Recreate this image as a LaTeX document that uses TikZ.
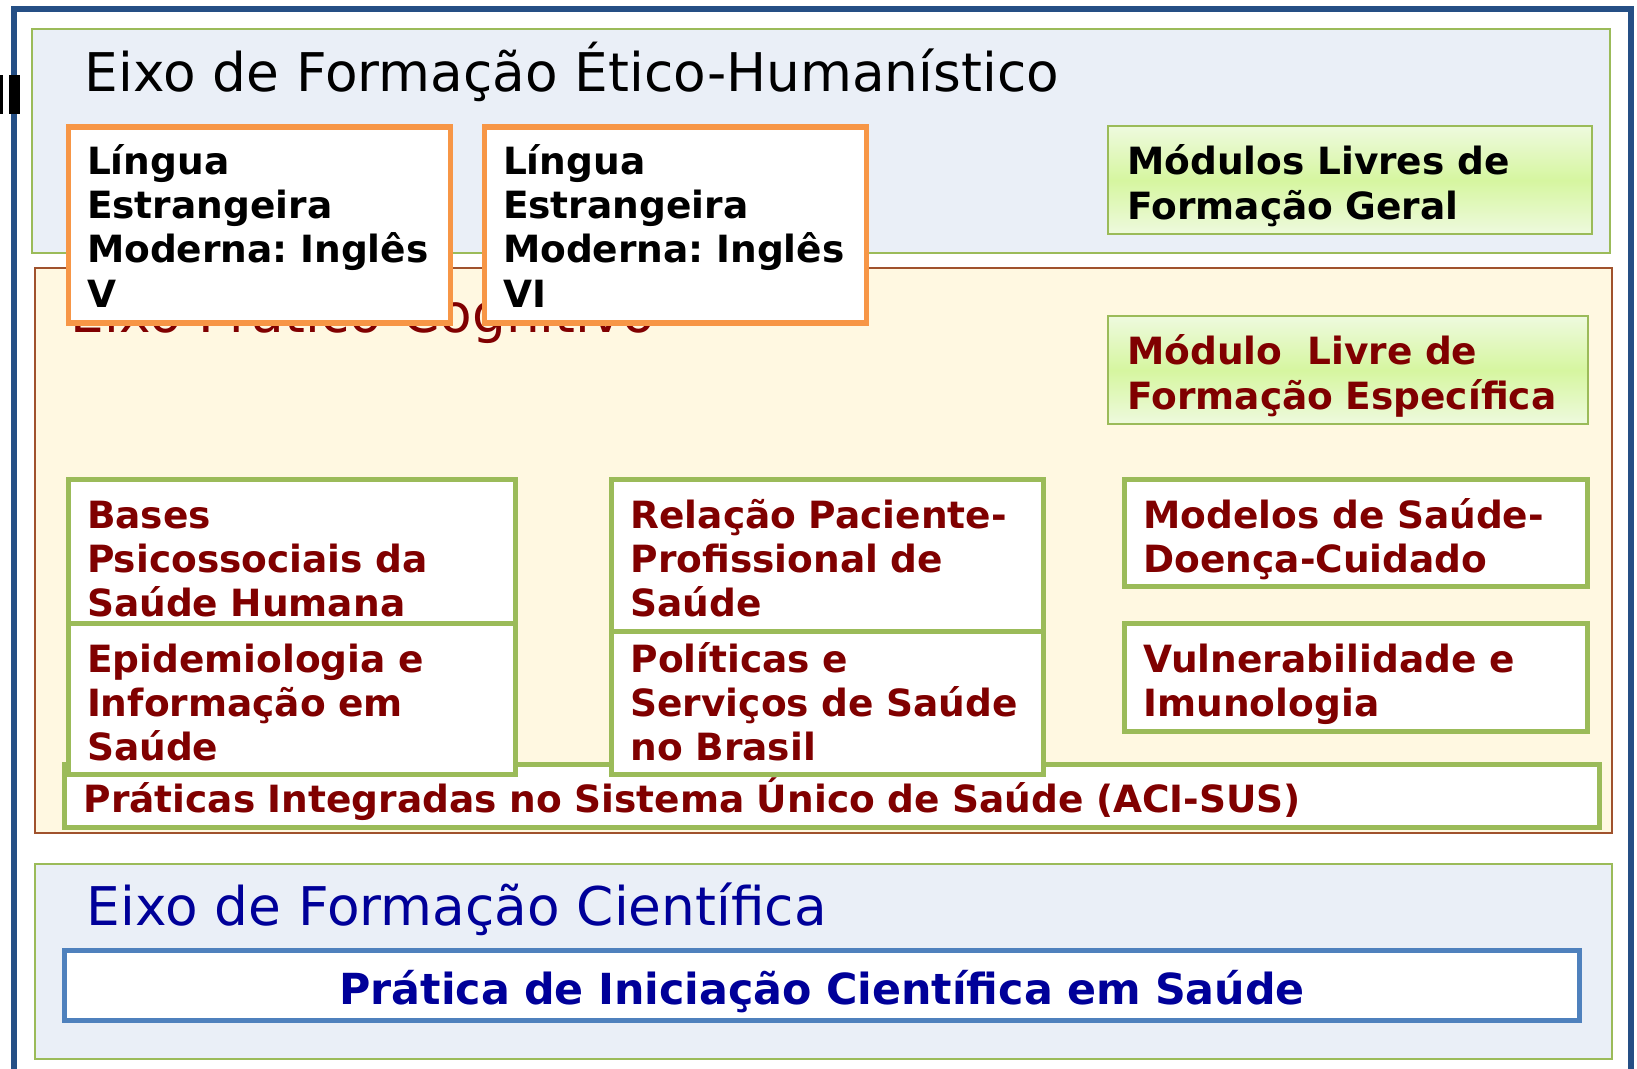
\documentclass[tikz,border=0pt]{standalone}
\usepackage{fontspec}
\setmainfont{DejaVu Sans}
\frenchspacing

\definecolor{moldura}{RGB}{37,79,133}
\definecolor{fundoazul}{RGB}{234,239,247}
\definecolor{fundobege}{RGB}{255,248,225}
\definecolor{verdeborda}{RGB}{155,187,89}
\definecolor{marrom}{RGB}{160,82,45}
\definecolor{laranja}{RGB}{247,150,70}
\definecolor{vinho}{RGB}{128,0,0}
\definecolor{azulescuro}{RGB}{0,0,153}
\definecolor{azulborda}{RGB}{79,129,189}
\definecolor{verdeclaro}{RGB}{238,250,222}
\definecolor{verdemeio}{RGB}{214,246,160}

\tikzset{
  eixo/.style={anchor=base west, inner sep=0pt, font=\fontsize{15.17}{18}\selectfont},
  painel/.style={line width=0.55pt},
  caixa/.style={draw, fill=white, line width=1.45pt, anchor=north west, inner xsep=0.19cm, inner ysep=0pt,
    text height=0.485cm, align=left, font=\bfseries\fontsize{10.67}{12.65}\selectfont},
  lingua/.style={caixa, draw=laranja, text=black, text width=3.445cm, text height=0.47cm, text depth=1.49cm},
  disciplina/.style={caixa, draw=verdeborda, text=vinho},
  livre/.style={caixa, draw=verdeborda, line width=0.7pt, top color=verdeclaro, bottom color=verdeclaro, middle color=verdemeio},
}

\begin{document}
\begin{tikzpicture}
\useasboundingbox (0,0) rectangle (16.37,-10.69);

% moldura externa
\draw[line width=1.6pt, draw=moldura] (0.14,-10.9) -- (0.14,-0.09) -- (16.31,-0.09) -- (16.31,-10.9);
\fill (0,-0.75) rectangle (0.03,-1.14);
\fill (0.09,-0.75) rectangle (0.20,-1.14);

% paineis dos eixos
\draw[painel, draw=verdeborda, fill=fundoazul] (0.32,-0.29) rectangle (16.10,-2.53);
\draw[painel, draw=marrom, fill=fundobege] (0.35,-2.68) rectangle (16.12,-8.33);
\draw[painel, draw=verdeborda, fill=fundoazul] (0.35,-8.64) rectangle (16.12,-10.59);

\node[eixo] (etico) at (0.84,-0.92) {Eixo de Formação Ético-Humanístico};
\node[eixo, text=vinho] (pratico) at (0.70,-3.33) {Eixo Prático-Cognitivo};
\node[eixo, text=azulescuro] (cientifico) at (0.86,-9.25) {Eixo de Formação Científica};

% eixo pratico-cognitivo
\node[disciplina, text width=14.97cm, text height=0.475cm, text depth=0.155cm] (sus) at (0.62,-7.62) {Práticas Integradas no Sistema Único de Saúde (ACI-SUS)};
\node[disciplina, text width=4.095cm, text depth=0.955cm] (bases) at (0.655,-4.77) {Bases\\Psicossociais da\\Saúde Humana};
\node[disciplina, text width=4.095cm, text depth=1.025cm] (epidemio) at (0.655,-6.21) {Epidemiologia e\\Informação em\\Saúde};
\node[disciplina, text width=3.935cm, text depth=1.035cm] (relacao) at (6.09,-4.77) {Relação Paciente-\\Profissional de\\Saúde};
\node[disciplina, text width=3.935cm, text height=0.405cm, text depth=1.025cm] (politicas) at (6.09,-6.29) {Políticas e\\Serviços de Saúde\\no Brasil};
\node[disciplina, text width=4.25cm, text depth=0.585cm] (modelos) at (11.22,-4.77) {Modelos de Saúde-\\Doença-Cuidado};
\node[disciplina, text width=4.25cm, text depth=0.595cm] (vulner) at (11.22,-6.21) {Vulnerabilidade e\\Imunologia};
\node[livre, text=vinho, text width=4.42cm, text depth=0.595cm] (livreesp) at (11.07,-3.15) {Módulo\ \ Livre de\\Formação Específica};

% eixo etico-humanistico
\node[livre, text=black, text width=4.46cm, text depth=0.595cm] (livregeral) at (11.07,-1.25) {Módulos Livres de\\Formação Geral};
\node[lingua] (ingles5) at (0.655,-1.245) {Língua\\Estrangeira\\Moderna: Inglês\\V};
\node[lingua] (ingles6) at (4.815,-1.245) {Língua\\Estrangeira\\Moderna: Inglês\\VI};

% eixo cientifico
\node[caixa, draw=azulborda, text=azulescuro, align=center, text width=14.77cm, text height=0.535cm, text depth=0.165cm,
  font=\bfseries\fontsize{12.18}{14.5}\selectfont] (iniciacao) at (0.62,-9.48) {Prática de Iniciação Científica em Saúde};

\end{tikzpicture}
\end{document}
